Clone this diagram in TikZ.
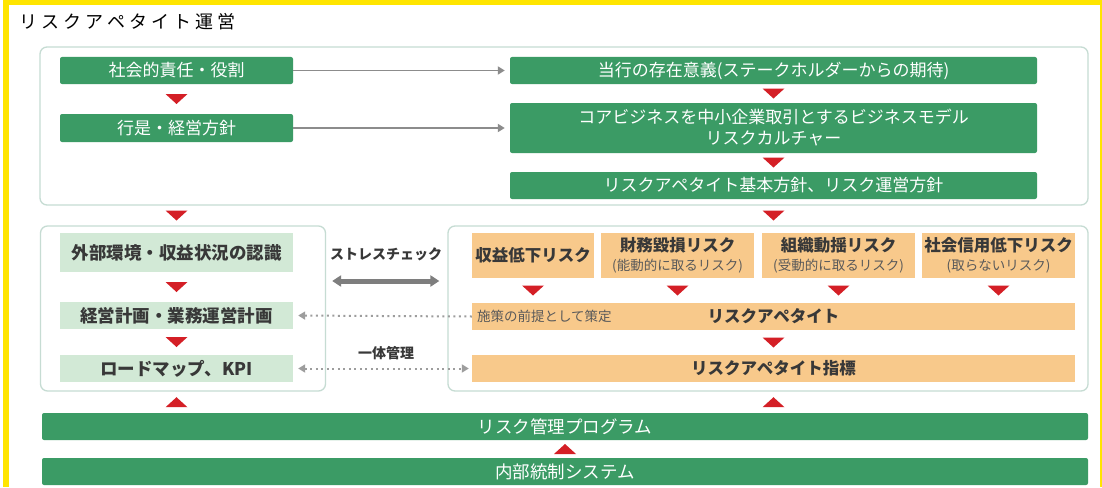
\documentclass[tikz,border=0pt]{standalone}
\usepackage{fontspec}
\setmainfont{Noto Sans CJK JP}
\usetikzlibrary{arrows.meta,calc}
\definecolor{dkgreen}{HTML}{3B9B65}
\definecolor{ltgreen}{HTML}{D2E9D6}
\definecolor{orng}{HTML}{F8C98B}
\definecolor{tri}{HTML}{D41F26}
\definecolor{frame}{HTML}{C6DCD3}
\definecolor{ylw}{HTML}{FFE500}
\definecolor{txt}{HTML}{383838}
\definecolor{subtxt}{HTML}{5A5A5A}
\definecolor{arrgray}{HTML}{8C8C8C}
\newcommand\fsz[2]{\fontsize{#1}{#2}\selectfont}
\newcommand\subtxt[1]{{\fsz{13.5}{17}\mdseries\color{subtxt}#1}}
\newcommand\dtri[1]{\fill[tri] #1 ++(-11,-5) -- ++(22,0) -- ++(-11,10) -- cycle;}
\newcommand\utri[1]{\fill[tri] #1 ++(-11,5) -- ++(22,0) -- ++(-11,-10) -- cycle;}
\tikzset{
  gbox/.style={fill=dkgreen, rounded corners=2pt, text=white, font=\fsz{17}{21}, inner sep=0pt, align=center},
  lgbox/.style={fill=ltgreen, text=txt, font=\fsz{17.5}{21}\bfseries, inner sep=0pt, align=center},
  obox/.style={fill=orng, text=txt, font=\fsz{16.5}{21}\bfseries, inner sep=0pt, align=center},
  cont/.style={draw=frame, line width=1.3pt, rounded corners=7pt, fill=white, inner sep=0pt},
  grayarr/.style={draw=arrgray, line width=1.8pt, -{Triangle[width=8pt,length=7pt]}},
  dotarr/.style={draw=arrgray!85, line width=2pt, dash pattern=on 2pt off 3.5pt, {Triangle[width=8pt,length=7pt]}-},
  dotarr2/.style={draw=arrgray!85, line width=2pt, dash pattern=on 2pt off 3.5pt, {Triangle[width=8pt,length=7pt]}-{Triangle[width=8pt,length=7pt]}},
  lbl/.style={text=txt, font=\fsz{14}{18}\bfseries, inner sep=0pt}
}
\begin{document}
\begin{tikzpicture}[x=1pt,y=-1pt]
\useasboundingbox (0,0) rectangle (1102,487);
\fill[white] (0,0) rectangle (1102,487);
% yellow frame
\fill[ylw] (3,0) rectangle (1102,5);
\fill[ylw] (3,0) rectangle (9,487);
\fill[ylw] (1099.5,0) rectangle (1101.5,487);
% title
\node[anchor=west, inner sep=0pt, text=black, font=\fsz{18}{22}] (title) at (19,22)
  {リ\hspace{4pt}ス\hspace{4pt}ク\hspace{4pt}ア\hspace{4pt}ペ\hspace{4pt}タ\hspace{4pt}イ\hspace{4pt}ト\hspace{4pt}運\hspace{4pt}営};
% containers
\node[cont, minimum width=1048, minimum height=158] (topbox) at (564,126) {};
\node[cont, minimum width=285, minimum height=165] (lbox) at (183,308.5) {};
\node[cont, minimum width=640, minimum height=165] (rbox) at (768,308.5) {};
% top green boxes
\node[gbox, minimum width=233, minimum height=27] (soc) at (176.5,70.5) {社会的責任・役割};
\node[gbox, minimum width=233, minimum height=28] (kou) at (176.5,128) {行是・経営方針};
\node[gbox, minimum width=527, minimum height=27] (son) at (773.5,70.5) {当行の存在意義(ステークホルダーからの期待)};
\node[gbox, minimum width=527, minimum height=50] (core) at (773.5,128) {コアビジネスを中小企業取引とするビジネスモデル\\リスクカルチャー};
\node[gbox, minimum width=527, minimum height=27] (kih) at (773.5,185.5) {リスクアペタイト基本方針、リスク運営方針};
\draw[grayarr, shorten >=5pt] (soc.east) -- (son.west);
\draw[grayarr, shorten >=5pt] (kou.east) -- (core.west);
\dtri{($(soc.south)!0.5!(kou.north)$)}
\dtri{($(son.south)!0.5!(core.north)$)}
\dtri{($(core.south)!0.5!(kih.north)$)}
\dtri{($(soc.south |- topbox.south)!0.5!(soc.south |- lbox.north)$)}
\dtri{($(son.south |- topbox.south)!0.5!(son.south |- rbox.north)$)}
% left middle
\node[lgbox, minimum width=233, minimum height=39] (ext) at (176.5,252.5) {外部環境・収益状況の認識};
\node[lgbox, minimum width=233, minimum height=27] (plan) at (176.5,315.5) {経営計画・業務運営計画};
\node[lgbox, minimum width=233, minimum height=27] (road) at (176.5,368.5) {ロードマップ、KPI};
\dtri{($(ext.south)!0.5!(plan.north)$)}
\dtri{($(plan.south)!0.5!(road.north)$)}
% right middle
\node[obox, minimum width=122, minimum height=45] (r1) at (533,255.5) {収益低下リスク};
\node[obox, minimum width=153, minimum height=45] (r2) at (677.5,255.5) {財務毀損リスク\\[-2pt]\subtxt{(能動的に取るリスク)}};
\node[obox, minimum width=153, minimum height=45] (r3) at (838.5,255.5) {組織動揺リスク\\[-2pt]\subtxt{(受動的に取るリスク)}};
\node[obox, minimum width=153, minimum height=45] (r4) at (998.5,255.5) {社会信用低下リスク\\[-2pt]\subtxt{(取らないリスク)}};
\node[obox, minimum width=603, minimum height=27] (ra) at (773.5,316.5) {リスクアペタイト};
\node[obox, minimum width=603, minimum height=27] (rai) at (773.5,368.5) {リスクアペタイト指標};
\node[anchor=west, inner sep=0pt, text=subtxt, font=\fsz{13.5}{16}] (pre) at ([xshift=5pt]ra.west) {施策の前提として策定};
\foreach \r in {r1,r2,r3,r4}{\dtri{($(\r.south)!0.5!(\r.south |- ra.north)$)}}
\dtri{($(ra.south)!0.5!(rai.north)$)}
% connectors between middle boxes
\coordinate (ys) at (0,281);
\draw[line width=5pt, draw=arrgray!90!black, {Triangle[width=11pt,length=9pt]}-{Triangle[width=11pt,length=9pt]}]
  ([xshift=6pt]lbox.east |- ys) -- ([xshift=-8pt]rbox.west |- ys);
\node[lbl] (stress) at (386,254) {ストレスチェック};
\node[lbl] (ittai) at (386,353) {一体管理};
\draw[dotarr, shorten <=5pt] (plan.east) -- (ra.west);
\draw[dotarr2, shorten <=5pt, shorten >=3pt] (road.east) -- (rai.west);
% bottom bars
\node[gbox, minimum width=1046, minimum height=27, font=\fsz{17.5}{21}] (prog) at (565,426.5) {リスク管理プログラム};
\node[gbox, minimum width=1046, minimum height=27, font=\fsz{17.5}{21}] (naibu) at (565,471.5) {内部統制システム};
\utri{($(soc.south |- lbox.south)!0.5!(soc.south |- prog.north)$)}
\utri{($(son.south |- rbox.south)!0.5!(son.south |- prog.north)$)}
\utri{($(prog.south)!0.5!(naibu.north)$)}
\end{tikzpicture}
\end{document}
